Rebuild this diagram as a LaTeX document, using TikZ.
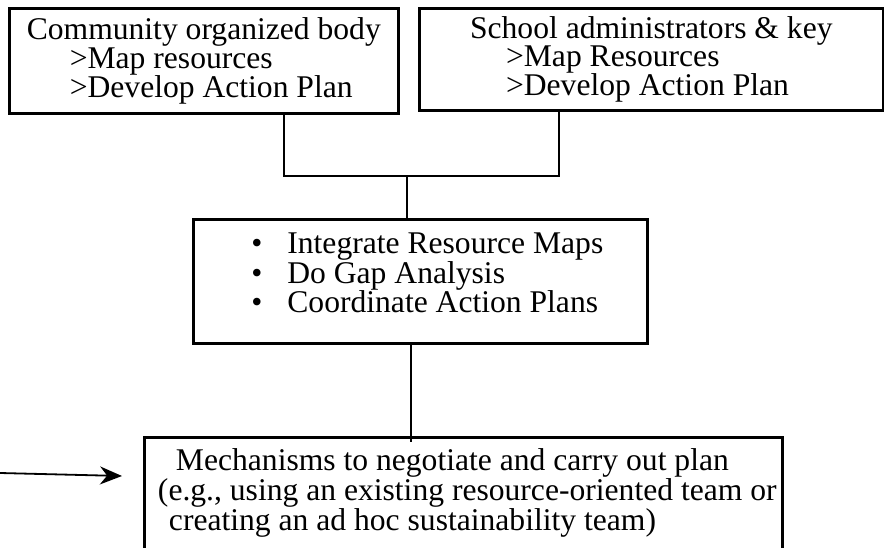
\documentclass[tikz,border=0pt]{standalone}
\usepackage{fontspec}
\setmainfont{Liberation Serif}
\usetikzlibrary{arrows.meta,calc,positioning}

\begin{document}
\begin{tikzpicture}[x=1pt,y=-1pt,
  box/.style={draw,line width=2.6pt,inner sep=0pt,anchor=north west,align=left,
    font=\fontsize{31.6pt}{28.7pt}\selectfont},
  link/.style={line width=1.8pt},
  pointer/.style={line width=1.8pt,-{Stealth[length=22pt,width=18pt]}}]
\def\sub#1{\hspace*{#1pt}>}
\def\dot{\hspace*{14pt}\textbullet\hspace{25pt}}
\clip (0,0) rectangle (884,548);
\node [box,minimum width=389pt,minimum height=105pt] (body) at (8,7)
  {Community organized body\\\sub{43}Map resources\\\sub{43}Develop Action Plan};
\node [box,minimum width=464pt,minimum height=102pt] (admin) at (418,7)
  {School administrators \& key\\\sub{36}Map Resources\\\sub{36}Develop Action Plan};
\node [box,minimum width=454pt,minimum height=124pt,text depth=17pt,
  font=\fontsize{31.6pt}{27.7pt}\selectfont] (plan) at (192,218)
  {\dot Integrate Resource Maps\\\dot Do Gap Analysis\\\dot Coordinate Action Plans};
\node [box,minimum width=638pt,inner ysep=11.5pt,text depth=100pt,
  font=\fontsize{31.6pt}{28pt}\selectfont] (mech) at (143,436)
  {\hspace*{26pt}Mechanisms to negotiate and carry out plan\\
   \hspace*{8pt}(e.g., using an existing resource-oriented team or\\
   \hspace*{19pt}creating an ad hoc sustainability team)};
% joins
\coordinate (hub) at (407,176);
\draw [link] ($(body.south west)+(276,0)$) |- (hub) -| ($(admin.south west)+(141,-3)$);
\draw [link] (hub) -- (hub |- plan.north);
\draw [link] ($(plan.south west)+(219,0)$) coordinate (drop) -- ($(drop |- mech.north)+(0,6)$);
\coordinate (feed) at (0,473);
\draw [pointer] (feed) -- ($(mech.north west)+(-21,40)$);
\end{tikzpicture}
\end{document}
